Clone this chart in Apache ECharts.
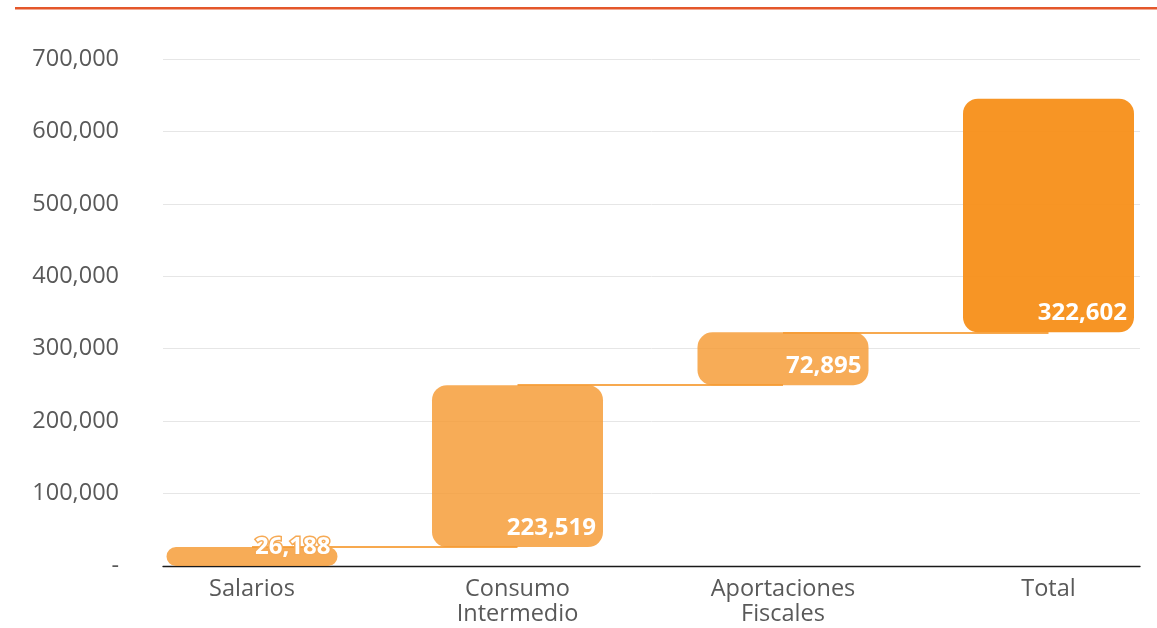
<!DOCTYPE html>
<html>
<head>
<meta charset="utf-8">
<script src="https://cdn.jsdelivr.net/npm/echarts@6/dist/echarts.min.js"></script>
<style>
  html, body { margin: 0; padding: 0; background: #fff; }
  #chart { width: 1157px; height: 628px; }
</style>
</head>
<body>
<div id="chart"></div>
<script>
// Waterfall: each step rests on the running total of the ones before it
const categories = ['Salarios', 'Consumo\nIntermedio', 'Aportaciones\nFiscales', 'Total'];
const values = [26188, 223519, 72895, 322602];
const yTicks = [0, 100000, 200000, 300000, 400000, 500000, 600000, 700000];

// running bases for the floating bars
const bases = [];
let running = 0;
values.forEach(v => { bases.push(running); running += v; });

const fmt = n => n === 0 ? '-' : n.toLocaleString('en-US');

const lightFill = 'rgba(245,154,50,0.82)';
const totalFill = 'rgba(247,145,28,0.96)';
const yMin = yTicks[0];
const yMax = yTicks[yTicks.length - 1];

// connectors: previous bar's top level running across to the next bar
const connectors = [];
for (let i = 1; i < categories.length; i++) {
  connectors.push([
    { coord: [i - 1, bases[i]] },
    { coord: [i, bases[i]] }
  ]);
}

const chart = echarts.init(document.getElementById('chart'));
chart.setOption({
  animation: false,
  textStyle: { fontFamily: 'Open Sans' },
  graphic: [{
    type: 'rect',
    shape: { x: 15, y: 7, width: 1142, height: 2.5 },
    style: { fill: '#E4572A' }
  }],
  grid: [
    // frame: value labels, gridlines and baseline
    { left: 163, right: 17, top: 59, bottom: 62, outerBoundsMode: 'none' },
    // plotting band for the bars (wider category slots)
    { left: 119.25, right: -24.25, top: 59, bottom: 62, outerBoundsMode: 'none' }
  ],
  xAxis: [
    {
      gridIndex: 0, type: 'value', min: 0, max: 1,
      axisLine: { show: true, onZero: false, lineStyle: { color: '#1a1a1a', width: 1.3 } },
      axisTick: { show: false }, axisLabel: { show: false }, splitLine: { show: false }
    },
    {
      gridIndex: 1, type: 'category', data: categories,
      axisLine: { show: false }, axisTick: { show: false },
      axisLabel: {
        color: '#595959', fontSize: 23.5, lineHeight: 25, margin: 11,
        fontFamily: 'Open Sans'
      }
    }
  ],
  yAxis: [
    {
      gridIndex: 0, type: 'value', min: yMin, max: yMax, interval: 100000,
      axisLine: { show: false }, axisTick: { show: false },
      splitLine: { lineStyle: { color: '#E6E6E6', width: 1 } },
      axisLabel: {
        color: '#595959', fontSize: 23.5, margin: 44,
        fontFamily: 'Open Sans',
        formatter: v => fmt(v)
      }
    },
    {
      gridIndex: 1, type: 'value', min: yMin, max: yMax, interval: 100000,
      show: false
    }
  ],
  series: [
    {
      name: 'base',
      type: 'bar',
      xAxisIndex: 1, yAxisIndex: 1,
      stack: 'w',
      barWidth: 171,
      z: 1,
      itemStyle: { color: 'transparent' },
      emphasis: { disabled: true },
      data: bases,
      markLine: {
        symbol: 'none',
        silent: true,
        z: 1,
        label: { show: false },
        lineStyle: { color: '#F7A94F', width: 2, type: 'solid' },
        data: connectors
      }
    },
    {
      name: 'valor',
      type: 'bar',
      xAxisIndex: 1, yAxisIndex: 1,
      stack: 'w',
      barWidth: 171,
      z: 3,
      data: values.map((v, i) => ({
        value: v,
        itemStyle: {
          color: i === values.length - 1 ? totalFill : lightFill,
          borderRadius: 15
        },
        // the shortest bar is lower than its label; an outline keeps the text legible
        label: i === 0 ? { textBorderColor: '#F6AA55', textBorderWidth: 3 } : {}
      })),
      label: {
        show: true,
        position: 'insideBottomRight',
        distance: 7,
        color: '#fff',
        fontSize: 24,
        fontWeight: 'bold',
        fontFamily: 'Open Sans',
        formatter: p => fmt(p.value)
      }
    }
  ]
});
</script>
</body>
</html>
